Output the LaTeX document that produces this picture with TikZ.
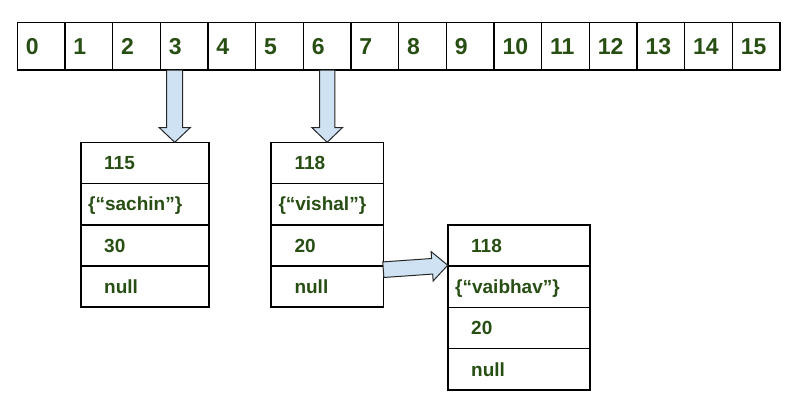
\documentclass[tikz,border=0pt]{standalone}
\usepackage{fontspec}
\setmainfont{Liberation Sans}
\usetikzlibrary{calc}
\definecolor{txtgreen}{HTML}{274E13}
\definecolor{arrowblue}{HTML}{CFE2F3}
\tikzset{
  cellbox/.style={draw=black, line width=1.6pt, minimum width=47.67pt, minimum height=47.7pt,
    inner xsep=8.5pt, inner ysep=0pt, outer sep=0pt, text width=30.67pt, align=left,
    text height=20.5pt, text depth=4pt, text=txtgreen,
    font=\fontsize{23pt}{25pt}\selectfont\bfseries},
  rowbox/.style={draw=black, line width=1.6pt, minimum height=41.2pt,
    inner xsep=7.5pt, inner ysep=0pt, outer sep=0pt, align=left,
    text height=17.6pt, text depth=4pt, text=txtgreen,
    font=\fontsize{19pt}{21pt}\selectfont\bfseries},
  blockarr/.style={draw=black!85, line width=1pt, fill=arrowblue, line join=miter},
}
\newcommand\myblockarrow[5]{%
  \coordinate (ba-h) at ($(#2)!#5!(#1)$);
  \filldraw[blockarr] ($(#1)!#3!90:(#2)$) -- ($(ba-h)!#3!90:(#2)$) -- ($(ba-h)!#4!90:(#2)$)
    -- (#2) -- ($(ba-h)!#4!-90:(#2)$) -- ($(ba-h)!#3!-90:(#2)$) -- ($(#1)!#3!-90:(#2)$) -- cycle;
}
\begin{document}
\begin{tikzpicture}[x=1pt, y=-1pt]
\useasboundingbox (0,0) rectangle (798,402);
% array
\foreach \i in {0,...,15} {
  \node[cellbox] (c\i) at ({17.3+47.67*(\i+0.5)}, 46.2) {\i};
}
% box 1
\node[rowbox, text width=113.3pt] (b1a) at (144.85,162.9) {\hspace*{16pt}115};
\node[rowbox, text width=113.3pt, anchor=north] (b1b) at (b1a.south) {\{“sachin”\}};
\node[rowbox, text width=113.3pt, anchor=north] (b1c) at (b1b.south) {\hspace*{16pt}30};
\node[rowbox, text width=113.3pt, anchor=north] (b1d) at (b1c.south) {\hspace*{16pt}null};
% box 2
\node[rowbox, text width=97.3pt] (b2a) at (327.15,162.9) {\hspace*{16pt}118};
\node[rowbox, text width=97.3pt, anchor=north] (b2b) at (b2a.south) {\{“vishal”\}};
\node[rowbox, text width=97.3pt, anchor=north] (b2c) at (b2b.south) {\hspace*{16pt}20};
\node[rowbox, text width=97.3pt, anchor=north] (b2d) at (b2c.south) {\hspace*{16pt}null};
% box 3
\node[rowbox, text width=127.3pt] (b3a) at (518.85,245.6) {\hspace*{16pt}118};
\node[rowbox, text width=127.3pt, anchor=north] (b3b) at (b3a.south) {\{“vaibhav”\}};
\node[rowbox, text width=127.3pt, anchor=north] (b3c) at (b3b.south) {\hspace*{16pt}20};
\node[rowbox, text width=127.3pt, anchor=north] (b3d) at (b3c.south) {\hspace*{16pt}null};
% arrows
\coordinate (a1s) at ([xshift=-9.4pt]c3.south);
\coordinate (a1e) at (a1s |- b1a.north);
\myblockarrow{a1s}{a1e}{8pt}{15.5pt}{14.7pt}
\coordinate (a2s) at (c6.south);
\coordinate (a2e) at (a2s |- b2a.north);
\myblockarrow{a2s}{a2e}{7.6pt}{15.3pt}{14.7pt}
\coordinate (a3s) at ([yshift=-3.8pt]b2c.south east);
\coordinate (a3e) at ([yshift=1pt]b3a.south west);
\myblockarrow{a3s}{a3e}{7.8pt}{14.7pt}{15.6pt}
\end{tikzpicture}
\end{document}
